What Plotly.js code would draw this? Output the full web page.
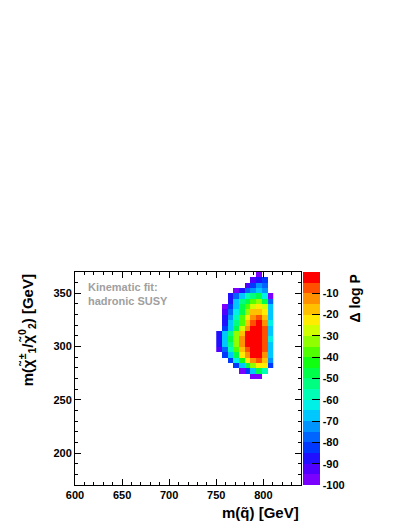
<!DOCTYPE html>
<html>
<head>
<meta charset="utf-8">
<script src="https://cdn.plot.ly/plotly-3.0.1.min.js"></script>
<style>html,body{margin:0;padding:0;background:#fff;}#chart{width:407px;height:527px;}</style>
</head>
<body>
<div id="chart"></div>
<script>
// squark mass bin centres [GeV] (6 GeV bins)
const xCenters = [753, 759, 765, 771, 777, 783, 789, 795, 801, 807];
// chargino/neutralino mass bin centres [GeV] (5 GeV bins), bottom to top
const yCenters = [272.5, 277.5, 282.5, 287.5, 292.5, 297.5, 302.5, 307.5, 312.5, 317.5,
                  322.5, 327.5, 332.5, 337.5, 342.5, 347.5, 352.5, 357.5, 362.5, 367.5];
const n = null;
// Delta log P, rows bottom (272.5) to top (367.5)
const deltaLogP = [
  [n, n, n, n, n, n, -96, -96, n, n],
  [n, n, n, n, -96, -84, -68, -50, -58, n],
  [n, n, n, -82, -66, -46, -32, -24, -24, -84],
  [n, n, -82, -64, -42, -24, -12, -8, -18, -72],
  [n, -84, -66, -46, -24, -12, -4, -3, -14, -68],
  [-94, -80, -56, -38, -18, -8, -2, -2, -9, -68],
  [-88, -70, -52, -32, -14, -4, -1, -1, -8, -66],
  [-86, -68, -50, -32, -14, -4, -1, -1, -8, -64],
  [-88, -70, -52, -34, -16, -4, -2, -1, -9, -66],
  [n, -82, -66, -48, -30, -12, -3, -2, -9, -66],
  [n, -86, -68, -52, -36, -18, -8, -4, -14, -64],
  [n, -88, -74, -56, -40, -24, -14, -9, -18, -66],
  [n, -94, -80, -62, -46, -32, -20, -16, -24, -68],
  [n, -96, -84, -66, -50, -38, -30, -24, -30, -70],
  [n, n, -86, -68, -55, -45, -38, -35, -48, -78],
  [n, n, -88, -77, -68, -60, -52, -50, -64, -96],
  [n, n, n, -96, -86, -80, -72, -67, -73, n],
  [n, n, n, n, n, -92, -83, -74, -78, n],
  [n, n, n, n, n, n, -93, -86, -84, n],
  [n, n, n, n, n, n, n, -97, n, n]
];
const zTicks = [-10, -20, -30, -40, -50, -60, -70, -80, -90, -100];
const xTicks = [600, 650, 700, 750, 800];
const yTicks = [200, 250, 300, 350];

// ROOT-like rainbow palette, 20 bands from -100 to 0
const bandColors = [
  '#7a00ff', '#5000ff', '#2010ff', '#0038ff', '#0064ff',
  '#0094ff', '#00c8ff', '#00f0e8', '#00ffb4', '#00ff80',
  '#00ff48', '#10ff10', '#50ff00', '#90ff00', '#d0ff00',
  '#ffec00', '#ffc000', '#ff9000', '#ff5000', '#ff0000'
];
const colorscale = [];
bandColors.forEach((c, i) => {
  colorscale.push([i / bandColors.length, c]);
  colorscale.push([(i + 1) / bandColors.length, c]);
});

const FONT = 'Liberation Sans, Arial, Helvetica, sans-serif';

const trace = {
  type: 'heatmap',
  x: xCenters,
  y: yCenters,
  z: deltaLogP,
  zmin: -100,
  zmax: 0,
  colorscale: colorscale,
  hoverongaps: false,
  colorbar: {
    x: 1.009, xanchor: 'left', xpad: 0,
    y: 0.5, yanchor: 'middle', len: 1, lenmode: 'fraction', ypad: 0,
    thickness: 17,
    outlinewidth: 0,
    tickmode: 'array', tickvals: zTicks, ticktext: zTicks.map(String),
    ticks: 'inside', ticklen: 8, tickcolor: '#000', tickwidth: 1,
    tickfont: {family: FONT, size: 11, color: '#000', weight: 'bold'}
  }
};

const axisCommon = {
  showgrid: false, zeroline: false,
  showline: true, linecolor: '#000', linewidth: 1, mirror: 'allticks',
  ticks: 'inside', ticklen: 6, tickcolor: '#000', tickwidth: 1,
  tickfont: {family: FONT, size: 11, color: '#000', weight: 'bold'},
  minor: {ticks: 'inside', ticklen: 3, dtick: 10, tickcolor: '#000', showgrid: false}
};

const layout = {
  width: 407, height: 527,
  margin: {l: 75, r: 106, t: 272, b: 42, pad: 0},
  paper_bgcolor: '#fff', plot_bgcolor: '#fff',
  showlegend: false,
  xaxis: Object.assign({}, axisCommon, {
    range: [600, 840], tickmode: 'array', tickvals: xTicks, ticktext: xTicks.map(String)
  }),
  yaxis: Object.assign({}, axisCommon, {
    range: [170, 370], tickmode: 'array', tickvals: yTicks, ticktext: yTicks.map(String)
  }),
  annotations: [
    {text: 'Kinematic fit:', xref: 'paper', yref: 'paper', x: 0.05, y: 0.965,
     xanchor: 'left', yanchor: 'top', showarrow: false,
     font: {family: FONT, size: 11, color: '#a0a0a0', weight: 'bold'}},
    {text: 'hadronic SUSY', xref: 'paper', yref: 'paper', x: 0.05, y: 0.90,
     xanchor: 'left', yanchor: 'top', showarrow: false,
     font: {family: FONT, size: 11, color: '#a0a0a0', weight: 'bold'}},
    {text: 'm(q\u0303) [GeV]', xref: 'paper', yref: 'paper', x: 1, y: -0.08,
     xanchor: 'right', yanchor: 'top', showarrow: false,
     font: {family: FONT, size: 15, color: '#000', weight: 'bold'}},
    {text: 'm(\u03c7\u0303<sup>\u00b1</sup><sub>1</sub>/\u03c7\u0303<sup>0</sup><sub>2</sub>) [GeV]',
     xref: 'paper', yref: 'paper', x: -0.16, y: 1.0,
     xanchor: 'right', yanchor: 'top', textangle: -90, showarrow: false,
     font: {family: FONT, size: 15, color: '#000', weight: 'bold'}},
    {text: '\u0394 log P', xref: 'paper', yref: 'paper', x: 1.285, y: 1.0,
     xanchor: 'right', yanchor: 'top', textangle: -90, showarrow: false,
     font: {family: FONT, size: 14, color: '#000', weight: 'bold'}}
  ]
};

Plotly.newPlot('chart', [trace], layout, {displayModeBar: false, staticPlot: true});
</script>
</body>
</html>
